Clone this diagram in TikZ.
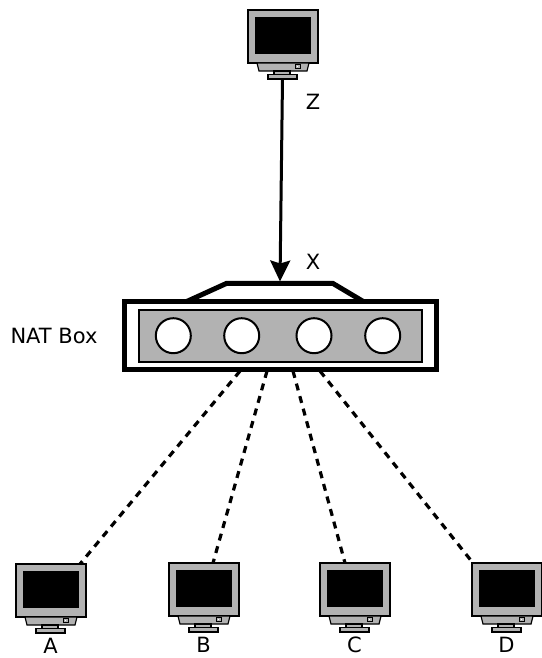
\documentclass[tikz,border=0pt]{standalone}
\usepackage{fontspec}
\setmainfont{DejaVu Sans}
\usepackage{xcolor}
\usepackage{tikz}
\usetikzlibrary{arrows.meta, calc}

\definecolor{casegray}{gray}{0.7}

\tikzset{
  monitor/.pic={
    \node[draw, fill=casegray, line width=1.2pt, minimum width=70pt, minimum height=53pt,
          inner sep=0pt, outer sep=0pt, anchor=north] (-frame) at (0,0) {};
    \fill[black] (-28,7) rectangle (28,44);
    \draw[fill=casegray, line width=1.2pt] (-26,53) -- (26,53) -- (24,61) -- (-24,61) -- cycle;
    \draw[fill=casegray, line width=0.8pt] (12,54.5) rectangle (17,58.5);
    \fill[white] (13.8,55.8) rectangle (15.4,57.2);
    \draw[fill=casegray, line width=1.2pt] (-9,61) rectangle (7,64.5);
    \node[draw, fill=casegray, line width=1.2pt, minimum width=29pt, minimum height=4.5pt,
          inner sep=0pt, outer sep=0pt, anchor=north] (-foot) at (-0.5,64.5) {};
  },
  port/.style={circle, draw, fill=white, line width=2pt, minimum size=35pt, inner sep=0pt},
  link/.style={line width=3.2pt, dash pattern=on 7pt off 6pt},
  lbl/.style={font=\fontsize{21}{25}\selectfont}
}

\begin{document}
\begin{tikzpicture}[x=1pt, y=-1pt]
\useasboundingbox (0,0) rectangle (541,658);

\pic (Z) at (283,10) {monitor};
\pic (A) at (51,564) {monitor};
\pic (B) at (204,563) {monitor};
\pic (C) at (355,563) {monitor};
\pic (D) at (507,563) {monitor};

\node[draw, line width=5pt, minimum width=312pt, minimum height=67.5pt, inner sep=0pt, outer sep=0pt] (nat) at (280,335.3) {};
\draw[line width=5pt, line join=miter] (186.7,301.5) -- (226.7,283.3) -- (332.7,283.3) -- (363.3,301.5);
\coordinate (natTop) at (280,281.5);
\node[draw, fill=casegray, line width=2pt, minimum width=283pt, minimum height=52pt, inner sep=0pt] (tray) at (280,335.5) {};
\node[port] (p1) at (173.3,335.7) {};
\node[port] (p2) at (241.7,335.7) {};
\node[port] (p3) at (314,335.7) {};
\node[port] (p4) at (382.7,335.7) {};

\draw[line width=3pt, -{Stealth[length=21pt, width=20pt, inset=3pt]}] (Z-foot.south) -- (natTop);

\draw[link] ($(nat.south)+(-40,2)$) -- ($(A-frame.north)+(29,0)$);
\draw[link] ($(nat.south)+(-13,2)$) -- ($(B-frame.north)+(9,0)$);
\draw[link] ($(nat.south)+(13,2)$) -- ($(C-frame.north)+(-10,0)$);
\draw[link] ($(nat.south)+(40,2)$) -- ($(D-frame.north)+(-34,0)$);

\node[lbl] (labZ) at (313,102) {Z};
\node[lbl] (labX) at (313,262) {X};
\node[lbl] (labNat) at (54,336) {NAT Box};
\node[lbl, below=1.5pt] (labA) at (A-foot.south) {A};
\node[lbl, below=1.5pt] (labB) at (B-foot.south) {B};
\node[lbl, below=1.5pt] (labC) at (C-foot.south) {C};
\node[lbl, below=1.5pt] (labD) at (D-foot.south) {D};
\end{tikzpicture}
\end{document}
